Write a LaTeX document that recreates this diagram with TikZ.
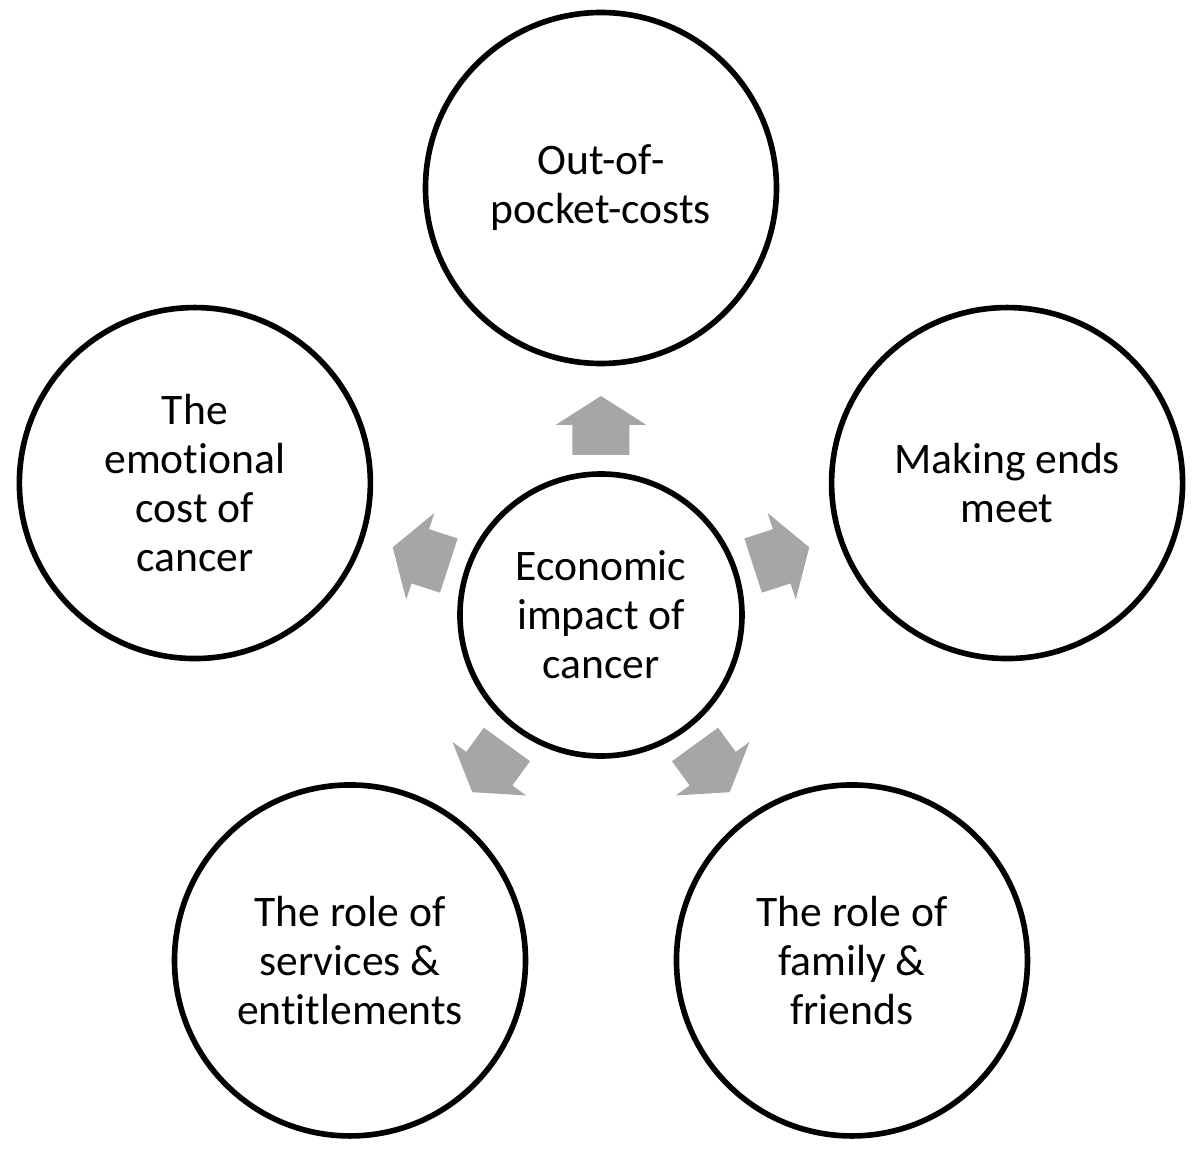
\documentclass[tikz,border=0pt]{standalone}
\usepackage{fontspec}
\setmainfont[Ligatures=NoCommon]{Carlito}
\usepackage{xcolor}
\usepackage{tikz}
\usetikzlibrary{calc, positioning}

\tikzset{
    vong/.style={circle, draw=black, line width=1.6pt, fill=white,
        align=center, inner sep=0pt, font=\fontsize{12.4}{13.9}\selectfont},
    vongngoai/.style={vong, minimum size=3.51cm},
    vongtam/.style={vong, minimum size=2.82cm},
    muiten/.style={fill=black!35}
}

\begin{document}
\begin{tikzpicture}
    \useasboundingbox (-6.01,-5.45) rectangle (5.99,6.15);

    % 1. Vòng tròn trung tâm
    \node[vongtam] (hub) at (0,0) {Economic\\impact of\\cancer};

    % 2. Năm vòng tròn xung quanh
    \node[vongngoai] (top)   at (90:4.27)   {Out-of-\\pocket-costs};
    \node[vongngoai] (right) at (18:4.27)   {Making ends\\meet};
    \node[vongngoai] (botR)  at (-54:4.27)  {The role of\\family \&\\friends};
    \node[vongngoai] (botL)  at (-126:4.27) {The role of\\services \&\\entitlements};
    \node[vongngoai] (left)  at (162:4.27)  {The\\emotional\\cost of\\cancer};

    % 3. Mũi tên khối màu xám hướng ra ngoài
    \foreach \goc in {90, 18, -54, -126, 162}
        \fill[muiten, rotate=\goc]
            (1.60,-0.285) -- (1.90,-0.285) -- (1.90,-0.455) -- (2.19,0)
            -- (1.90,0.455) -- (1.90,0.285) -- (1.60,0.285) -- cycle;
\end{tikzpicture}
\end{document}
